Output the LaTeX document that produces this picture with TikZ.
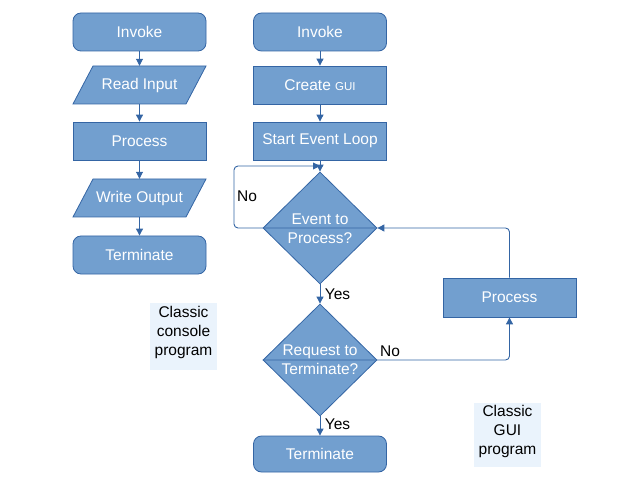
\documentclass[tikz,border=0pt]{standalone}
\usepackage{fontspec}
\setmainfont{Liberation Sans}
\usetikzlibrary{shapes.geometric,arrows.meta}
\definecolor{boxfill}{HTML}{729FCF}
\definecolor{boxline}{HTML}{3465A4}
\definecolor{notebg}{HTML}{EAF3FC}
\tikzset{
  base/.style={draw=boxline,fill=boxfill,text=white,font=\fontsize{15.5}{18}\selectfont,
    minimum width=133pt,minimum height=38pt,inner sep=0pt,line width=0.8pt},
  procbox/.style={base},
  termbox/.style={base,rounded corners=8pt},
  iotext/.style={text=white,font=\fontsize{15.5}{18}\selectfont,minimum width=133pt,minimum height=38pt,inner sep=0pt},
  decbox/.style={draw=boxline,fill=boxfill,shape=diamond,inner sep=0pt,minimum width=114pt,minimum height=112pt,line width=0.8pt},
  dectext/.style={text=white,font=\fontsize{15.5}{19}\selectfont,align=center},
  conn/.style={draw=boxline,line width=0.9pt,-{Triangle[length=7pt,width=7pt]}},
  lbl/.style={text=black,font=\fontsize{15.5}{18}\selectfont,inner sep=0pt},
  note/.style={fill=notebg,text=black,font=\fontsize{15.5}{19}\selectfont,align=center,inner sep=0pt},
}
\newcommand{\iobox}[3]{%
  \fill[boxfill,draw=boxline,line width=0.8pt] (#1-46.5,#2-19) -- (#1+66.5,#2-19) -- (#1+46.5,#2+19) -- (#1-66.5,#2+19) -- cycle;
}
\begin{document}
\begin{tikzpicture}[x=1pt,y=-1pt]
\useasboundingbox (0,0) rectangle (642,486);
% left column
\node[termbox] (li) at (139.5,32) {Invoke};
\iobox{139.5}{85}{}
\node[iotext] (lr) at (139.5,85) {Read Input};
\node[procbox] (lp) at (139.5,141) {Process};
\iobox{139.5}{198}{}
\node[iotext] (lw) at (139.5,198) {Write Output};
\node[termbox] (lt) at (139.5,255) {Terminate};
\draw[conn] (li) -- (lr);
\draw[conn] (lr) -- (lp);
\draw[conn] (lp) -- (lw);
\draw[conn] (lw) -- (lt);
% right column
\node[termbox] (ri) at (320,32) {Invoke};
\node[procbox] (rc) at (320,85) {Create {\fontsize{11.5}{14}\selectfont GUI}};
\node[procbox] (rs) at (320,141) {Start Event Loop};
\node[decbox] (d1) at (320,228) {};
\node[dectext] at (320,229) {Event to\\Process?};
\node[decbox] (d2) at (320,360) {};
\node[dectext] at (320,360) {Request to\\Terminate?};
\node[termbox,minimum height=36pt] (rt) at (320,454) {Terminate};
\node[procbox,minimum height=39pt] (rp) at (509.5,297.5) {Process};
\coordinate (loopin) at (320,166);
\draw[conn] (ri) -- (rc);
\draw[conn] (rc) -- (rs);
\draw[conn] (rs) -- (d1.north);
\draw[conn,rounded corners=4pt] (d1.east) -- (d1.west) -- (234,228) -- (234,166) -- (loopin);
\draw[conn] (d1.south) -- (d2.north);
\draw[conn,rounded corners=4pt] (d2.west) -- (d2.east) -- (509.5,360) -- (rp.south);
\draw[conn,rounded corners=4pt] (rp.north) -- (509.5,228) -- (d1.east);
\draw[conn] (d2.south) -- (rt);
% labels
\node[lbl] (no1) at (247,196) {No};
\node[lbl] (yes1) at (337.5,294) {Yes};
\node[lbl] (no2) at (390,351) {No};
\node[lbl] (yes2) at (337.5,424) {Yes};
% notes
\fill[notebg] (150,303) rectangle (217,370);
\node[note] (n1) at (183.5,332) {Classic\\console\\program};
\fill[notebg] (474,403) rectangle (541,467);
\node[note] (n2) at (507.5,431) {Classic\\GUI\\program};
\end{tikzpicture}
\end{document}
